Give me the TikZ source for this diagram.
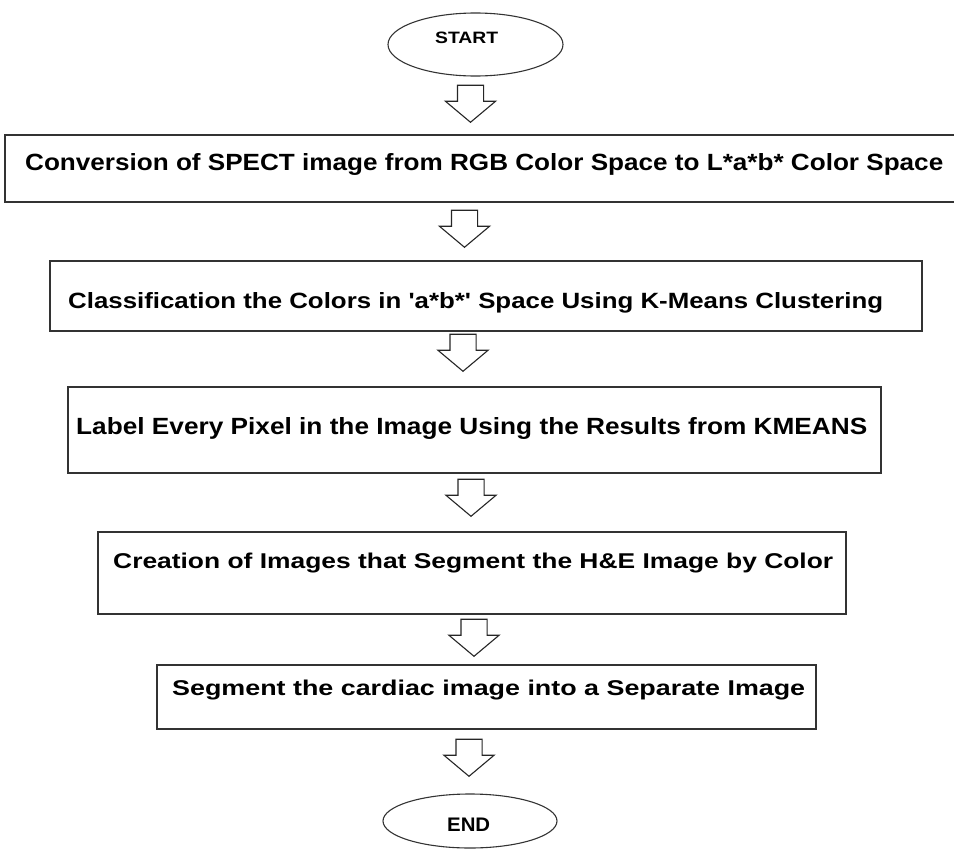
\documentclass[tikz,border=0pt]{standalone}
\usepackage{fontspec}
\setmainfont{Liberation Sans}
\usepackage{graphicx}
\usetikzlibrary{shapes.geometric,shapes.arrows}

\tikzset{
  stepbox/.style={draw=black!80, line width=1.6pt, rectangle, inner sep=0pt, outer sep=0pt},
  terminal/.style={draw=black!80, line width=1.1pt, ellipse, inner sep=0pt, minimum width=175pt},
  blockarrow/.style={draw=black!85, fill=white, line width=1.1pt, single arrow,
    single arrow head extend=12pt, single arrow tip angle=100,
    minimum height=37pt, inner sep=0pt, rotate=-90, anchor=tip},
  steptext/.style={anchor=base west, inner sep=0pt, font=\bfseries}
}
% squeeze a line of text into a given width and height (in pt)
\newcommand{\fitline}[3]{\resizebox{#1pt}{#2pt}{#3}}
% invisible strut that sets the shaft width of a block arrow
\newcommand{\shaft}{\rule{0pt}{25pt}}

\begin{document}
\begin{tikzpicture}[x=1pt, y=-1pt]
  \useasboundingbox (0,0) rectangle (954,857);

  % terminals
  \node[terminal, minimum height=63pt] (start) at (475.5,44.5) {};
  \node[steptext] (tstart) at (435,43) {\fitline{63}{11.5}{START}};
  \node[terminal, minimum width=174pt, minimum height=54pt] (end) at (470,821) {};
  \node[steptext] (tend) at (447,831) {\fitline{43}{13.5}{END}};

  % process boxes
  \node[stepbox, minimum width=952pt, minimum height=67pt] (b1) at (481,168.5) {};
  \node[steptext] (t1) at (25,170) {\fitline{918}{17}{Conversion of SPECT image from RGB Color Space to L*a*b* Color Space}};

  \node[stepbox, minimum width=872pt, minimum height=70pt] (b2) at (486,296) {};
  \node[steptext] (t2) at (68,308) {\fitline{815}{16}{Classification the Colors in \textquotesingle a*b*\textquotesingle\ Space Using K-Means Clustering}};

  \node[stepbox, minimum width=813pt, minimum height=86pt] (b3) at (474.5,430) {};
  \node[steptext] (t3) at (76,434) {\fitline{791}{17}{Label Every Pixel in the Image Using the Results from KMEANS}};

  \node[stepbox, minimum width=748pt, minimum height=82pt] (b4) at (472,573) {};
  \node[steptext] (t4) at (113,568) {\fitline{720}{15.5}{Creation of Images that Segment the H\&E Image by Color}};

  \node[stepbox, minimum width=659pt, minimum height=64pt] (b5) at (486.5,697) {};
  \node[steptext] (t5) at (172,695) {\fitline{633}{15.5}{Segment the cardiac image into a Separate Image}};

  % block arrows between the stages
  \node[blockarrow] (a1) at (470.5,123) {\shaft};
  \node[blockarrow] (a2) at (464.5,248) {\shaft};
  \node[blockarrow] (a3) at (463,372) {\shaft};
  \node[blockarrow] (a4) at (471,517) {\shaft};
  \node[blockarrow] (a5) at (474,657) {\shaft};
  \node[blockarrow] (a6) at (469,777) {\shaft};
\end{tikzpicture}
\end{document}
